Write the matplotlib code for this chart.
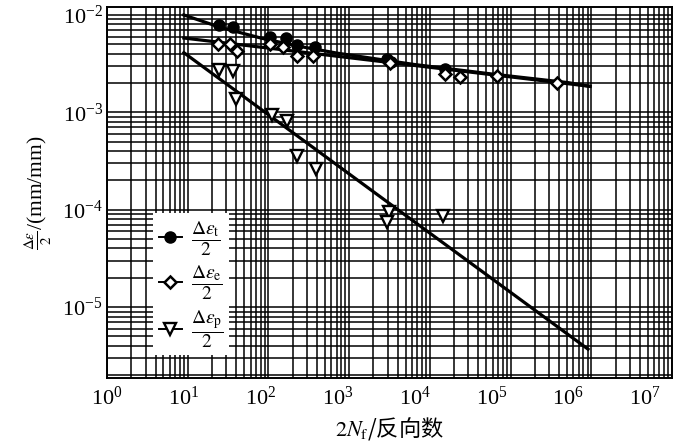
import numpy as np
import matplotlib
matplotlib.use("Agg")
import matplotlib.pyplot as plt
from matplotlib.lines import Line2D
from matplotlib.ticker import LogLocator, NullLocator, NullFormatter

plt.rcParams['font.family'] = ['Liberation Serif', 'Noto Sans CJK SC']
plt.rcParams['mathtext.fontset'] = 'stix'

# ---- data ----
total_N = [28.6, 43.3, 132, 213, 297, 509, 4430, 4990, 25000]
total_amp = [7.8e-3, 7.45e-3, 6.0e-3, 5.74e-3, 4.86e-3, 4.64e-3, 3.5e-3, 3.26e-3, 2.76e-3]

elastic_N = [27.8, 39.8, 49, 132, 195, 297, 478, 4800, 25000, 39200, 118700, 716000]
elastic_amp = [4.98e-3, 4.98e-3, 4.23e-3, 4.98e-3, 4.64e-3, 3.75e-3, 3.75e-3, 3.19e-3,
               2.45e-3, 2.29e-3, 2.34e-3, 1.98e-3]

plastic_N = [28.3, 43.3, 47.7, 140, 219, 297, 524, 4660, 4400, 23550]
plastic_amp = [2.70e-3, 2.64e-3, 1.36e-3, 9.3e-4, 8.1e-4, 3.54e-4, 2.6e-4, 9.4e-5, 7.4e-5, 8.6e-5]

# fitted curves
total_fit_N = [10, 30, 100, 300, 1000, 1e4, 1e5, 1e6, 1.92e6]
total_fit_amp = [1.0e-2, 7.45e-3, 5.8e-3, 4.8e-3, 4.05e-3, 3.1e-3, 2.48e-3, 2.02e-3, 1.85e-3]
elastic_fit_N = [10, 1.92e6]
elastic_fit_amp = [5.8e-3, 1.85e-3]
plastic_fit_N = [10, 1.81e6]
plastic_fit_amp = [4.1e-3, 3.7e-6]

x_ticks = [1e0, 1e1, 1e2, 1e3, 1e4, 1e5, 1e6, 1e7]
y_ticks = [1e-5, 1e-4, 1e-3, 1e-2]

xlim_data = (1.0, 10 ** 7.35)
ylim_data = (10 ** -5.728, 10 ** -1.918)
paper_xlim = (1.0, 1e7)

legend_labels = [r'$\dfrac{\Delta\varepsilon_{\rm t}}{2}$',
                 r'$\dfrac{\Delta\varepsilon_{\rm e}}{2}$',
                 r'$\dfrac{\Delta\varepsilon_{\rm p}}{2}$']

# ---- figure ----
fig = plt.figure(figsize=(6.84, 4.44), dpi=100)
rect = [107 / 684, (444 - 378) / 444, (672 - 107) / 684, (378 - 7) / 444]

# log graph paper background
paper = fig.add_axes(rect, zorder=0)
paper.set_xscale('log')
paper.set_yscale('log')
paper.set_xlim(*paper_xlim)
paper.set_ylim(*ylim_data)
for axis in (paper.xaxis, paper.yaxis):
    axis.set_major_locator(LogLocator(base=10, numticks=20))
    axis.set_minor_locator(LogLocator(base=10, subs=np.arange(2, 10), numticks=100))
    axis.set_major_formatter(NullFormatter())
    axis.set_minor_formatter(NullFormatter())
paper.grid(True, which='both', color='black', linewidth=1.1)
paper.tick_params(which='both', length=0)
for s in paper.spines.values():
    s.set_visible(False)

# data axes
ax = fig.add_axes(rect, zorder=1)
ax.patch.set_visible(False)
ax.set_xscale('log')
ax.set_yscale('log')
ax.set_xlim(*xlim_data)
ax.set_ylim(*ylim_data)
ax.set_xticks(x_ticks)
ax.set_yticks(y_ticks)
ax.xaxis.set_minor_locator(NullLocator())
ax.yaxis.set_minor_locator(NullLocator())
ax.tick_params(which='both', length=0, labelsize=16)
ax.tick_params(axis='x', pad=6)
ax.tick_params(axis='y', pad=3)
for s in ax.spines.values():
    s.set_linewidth(1.4)
    s.set_color('black')

# fitted lines
ax.plot(total_fit_N, total_fit_amp, color='black', lw=2.3)
ax.plot(elastic_fit_N, elastic_fit_amp, color='black', lw=2.3)
ax.plot(plastic_fit_N, plastic_fit_amp, color='black', lw=2.3)

# data points
ax.plot(total_N, total_amp, linestyle='none', marker='o', ms=8,
        mfc='black', mec='black')
ax.plot(elastic_N, elastic_amp, linestyle='none', marker='D', ms=6.5,
        mfc='white', mec='black', mew=1.8)
ax.plot(plastic_N, plastic_amp, linestyle='none', marker='v', ms=8.5,
        mfc='white', mec='black', mew=1.7)

handles = [
    Line2D([], [], color='black', lw=1.4, marker='o', ms=8, mfc='black', mec='black'),
    Line2D([], [], color='black', lw=1.4, marker='D', ms=6.5, mfc='white', mec='black', mew=1.8),
    Line2D([], [], color='black', lw=1.4, marker='v', ms=8.5, mfc='white', mec='black', mew=1.7),
]
leg = ax.legend(handles, legend_labels, loc='upper left',
                bbox_to_anchor=(0.081, 0.445), borderaxespad=0,
                fontsize=14, frameon=True, fancybox=False, framealpha=1,
                facecolor='white', edgecolor='none', borderpad=0.3,
                labelspacing=0.3, handlelength=1.2, handletextpad=0.45)

ax.set_xlabel(r'$2N_{\rm f}$/反向数', fontsize=16,
              family=['Noto Sans CJK SC'], labelpad=4)
ax.set_ylabel(r'$\frac{\Delta\varepsilon}{2}$/(mm/mm)', fontsize=15.5, labelpad=6)

fig.savefig('out.png', dpi=100)
